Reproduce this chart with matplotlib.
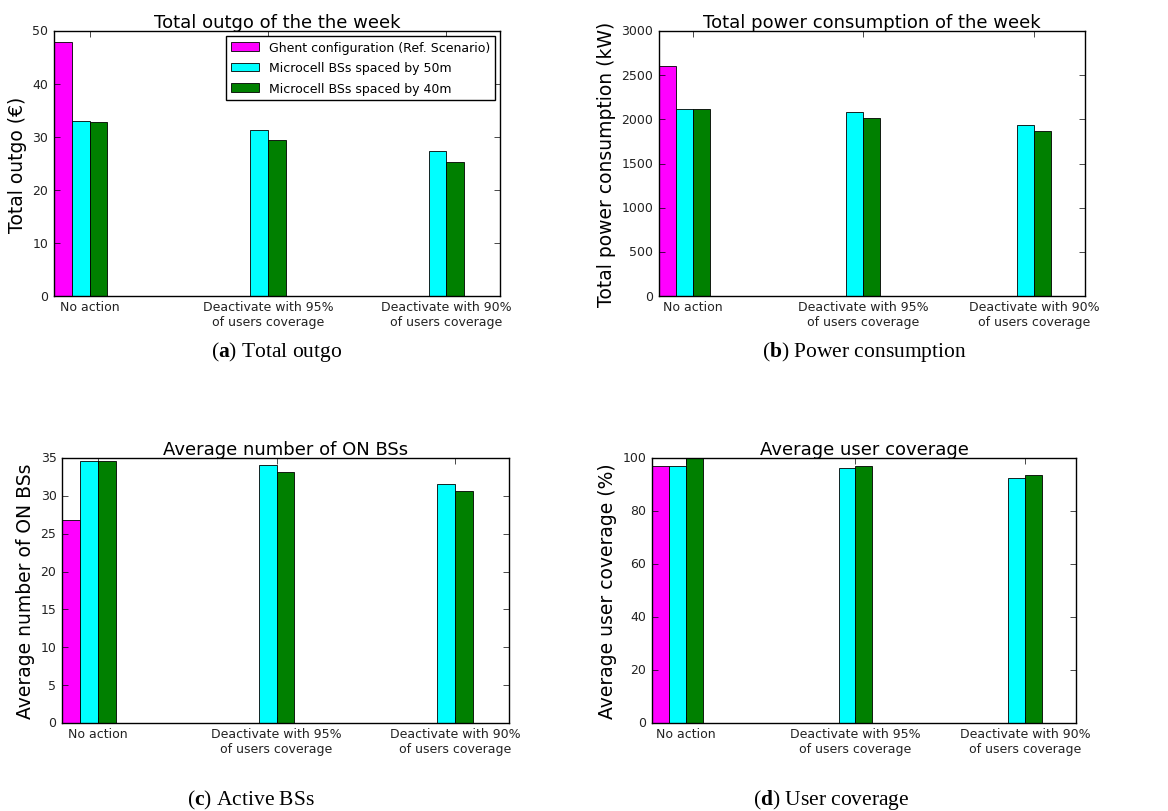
#!/usr/bin/env python

# Four panels comparing the Ghent reference scenario with two
#  microcell layouts under three switching-off policies.

import numpy
import matplotlib
matplotlib.use('Agg')
import matplotlib.pyplot as plt

plt.style.use('classic')
matplotlib.rcParams['mathtext.fontset'] = 'custom'
matplotlib.rcParams['mathtext.bf'] = 'Liberation Serif:bold'
matplotlib.rcParams['mathtext.rm'] = 'Liberation Serif'

# Data
groups = ['No action',
          'Deactivate with 95%\nof users coverage',
          'Deactivate with 90%\nof users coverage']
series = ['Ghent configuration (Ref. Scenario)',
          'Microcell BSs spaced by 50m',
          'Microcell BSs spaced by 40m']

outgo_ref = [48.0]
outgo_50 = [33.1, 31.3, 27.4]
outgo_40 = [32.9, 29.4, 25.2]

power_ref = [2605]
power_50 = [2115, 2085, 1933]
power_40 = [2115, 2020, 1868]

onbs_ref = [26.85]
onbs_50 = [34.6, 34.1, 31.6]
onbs_40 = [34.6, 33.1, 30.6]

cover_ref = [97.1]
cover_50 = [97.1, 96.1, 92.5]
cover_40 = [99.8, 97.1, 93.6]

colors = ['#ff00ff', '#00ffff', '#008000']
width = 0.1
ind = numpy.arange(len(groups))

fig = plt.figure(figsize=(11.68, 8.12), dpi=100, facecolor='white')

panels = [
    ([0.0462, 0.6342, 0.3818, 0.3264], outgo_ref, outgo_50, outgo_40,
     'Total outgo of the the week', 'Total outgo (\u20ac)', (0, 50),
     numpy.arange(0, 51, 10), True),
    ([0.5642, 0.6342, 0.3647, 0.3264], power_ref, power_50, power_40,
     'Total power consumption of the week',
     'Total power consumption (kW)', (0, 3000),
     numpy.arange(0, 3001, 500), False),
    ([0.0531, 0.1084, 0.3827, 0.3264], onbs_ref, onbs_50, onbs_40,
     'Average number of ON BSs', 'Average number of ON BSs', (0, 35),
     numpy.arange(0, 36, 5), False),
    ([0.5582, 0.1084, 0.3630, 0.3264], cover_ref, cover_50, cover_40,
     'Average user coverage', 'Average user coverage (%)', (0, 100),
     numpy.arange(0, 101, 20), False),
]

for rect, ref, s50, s40, title, ylab, ylim, yt, leg in panels:
    ax = fig.add_axes(rect)
    ax.bar(ind[:len(ref)] - 2*width, ref, width, align='edge',
           color=colors[0], edgecolor='black', linewidth=0.6,
           label=series[0])
    ax.bar(ind - width, s50, width, align='edge',
           color=colors[1], edgecolor='black', linewidth=0.6,
           label=series[1])
    ax.bar(ind, s40, width, align='edge',
           color=colors[2], edgecolor='black', linewidth=0.6,
           label=series[2])
    ax.set_xlim(-2*width, len(groups) - 1 + 3*width)
    ax.set_ylim(*ylim)
    ax.set_yticks(yt)
    ax.set_xticks(ind)
    ax.set_xticklabels(groups, fontsize=9, color='#222222')
    ax.tick_params(axis='y', labelsize=9, labelcolor='#222222')
    ax.tick_params(axis='x', pad=3)
    ax.set_title(title, fontsize=13, pad=3)
    ax.set_ylabel(ylab, fontsize=13.5, labelpad=4)
    if leg:
        ax.legend(loc='upper right', fontsize=9, frameon=True,
                  fancybox=False, borderaxespad=0.4, handlelength=2.2,
                  labelspacing=0.6)

# Sub-figure captions
captions = [(277, 352, 'a', 'Total outgo'),
            (864, 352, 'b', 'Power consumption'),
            (251, 800, 'c', 'Active BSs'),
            (831, 800, 'd', 'User coverage')]
for x, y, letter, txt in captions:
    fig.text(x/1168.0, 1 - y/812.0,
             r'($\mathbf{%s}$) %s' % (letter, txt),
             family='Liberation Serif', fontsize=15.5,
             ha='center', va='center')

fig.savefig('out.png', dpi=100, facecolor='white')
